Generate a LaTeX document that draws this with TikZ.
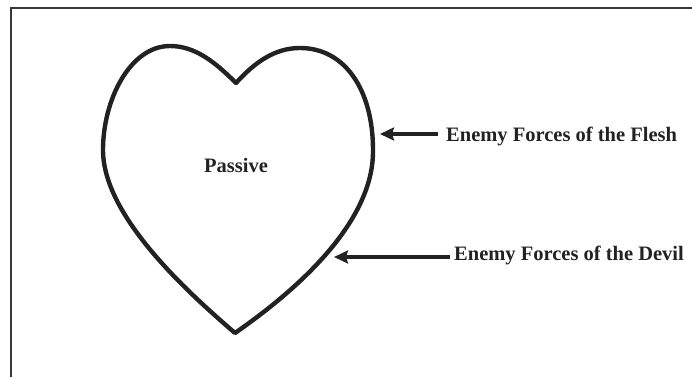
\documentclass[tikz,border=0pt]{standalone}
\usepackage{fontspec}
\setmainfont{Liberation Serif}
\usetikzlibrary{arrows.meta}
\definecolor{ink}{HTML}{222222}
\tikzset{
  heartline/.style={draw=ink, line width=4.4pt, line join=round},
  framline/.style={draw=ink!90, line width=2.4pt},
  label/.style={font=\fontsize{20.5}{22}\selectfont\bfseries, text=ink, inner sep=0pt},
  force/.style={draw=ink, line width=3.8pt, -{Stealth[length=14pt, width=13pt, inset=2pt]}, shorten >=1pt},
}
\begin{document}
\begin{tikzpicture}[x=1pt, y=-1pt]
\useasboundingbox (0,0) rectangle (692,377);
\draw[framline] (11,377) -- (11,8) -- (692,8);
% heart
\draw[heartline] (236,83)
  .. controls (215,62) and (195,46) .. (170,46)
  .. controls (130,46) and (103,100) .. (103,150)
  .. controls (103,215) and (185,290) .. (235,333)
  .. controls (297,290) and (374,222) .. (373,150)
  .. controls (373,90) and (345,48) .. (300,48)
  .. controls (275,48) and (255,62) .. cycle;
\coordinate (fleshpt) at (379,134);
\coordinate (devilpt) at (333,257);
\node[label] (passive) at (236,165) {Passive};
\node[label, anchor=west] (flesh) at (446,136) {Enemy Forces of the Flesh};
\node[label, anchor=west] (devil) at (454,255) {Enemy Forces of the Devil};
\draw[force, shorten <=8pt] (flesh.west |- fleshpt) -- (fleshpt);
\draw[force, shorten <=4pt] (devil.west |- devilpt) -- (devilpt);
\end{tikzpicture}
\end{document}
